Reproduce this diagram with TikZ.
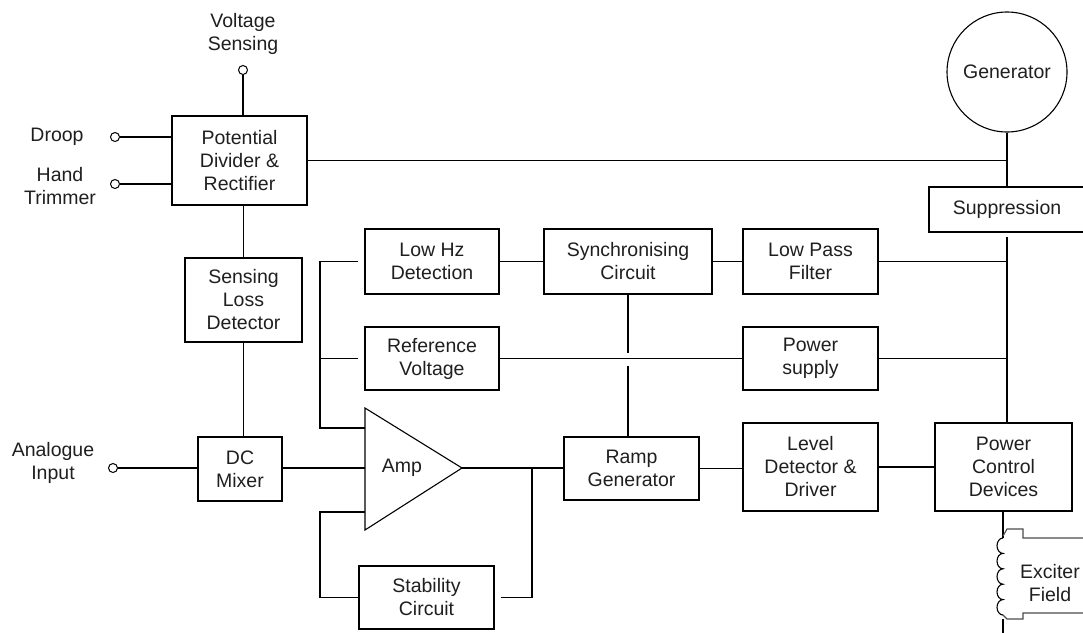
\documentclass[tikz,border=0pt]{standalone}
\usepackage{fontspec}
\setmainfont{Liberation Sans}
\begin{document}
\begin{tikzpicture}[x=1pt,y=-1pt,
  every node/.style={font=\fontsize{19.5}{23}\selectfont, text=black!88},
  blk/.style={draw, line width=1.6pt, align=center, inner sep=0pt},
  term/.style={circle, draw, line width=1pt, inner sep=0pt, minimum size=9pt},
  lbl/.style={align=center, inner sep=0pt},
  wire/.style={line width=1.6pt}]
\useasboundingbox (0,0) rectangle (1083,632);
% blocks
\node[blk, minimum width=135pt, minimum height=89pt] (pd) at (239.5,160.5) {Potential\\Divider \&\\Rectifier};
\node[blk, minimum width=117pt, minimum height=84pt] (sld) at (243.5,300) {Sensing\\Loss\\Detector};
\node[blk, minimum width=84pt, minimum height=64pt] (dc) at (240,469) {DC\\Mixer};
\node[blk, minimum width=134pt, minimum height=65pt] (lowhz) at (432,261.5) {Low Hz\\Detection};
\node[blk, minimum width=168pt, minimum height=65pt] (sync) at (628,261.5) {Synchronising\\Circuit};
\node[blk, minimum width=135pt, minimum height=65pt] (lpf) at (810.5,261.5) {Low Pass\\Filter};
\node[blk, minimum width=134pt, minimum height=63pt] (ref) at (432,358.5) {Reference\\Voltage};
\node[blk, minimum width=135pt, minimum height=63pt] (ps) at (810.5,358.5) {Power\\supply};
\node[blk, minimum width=135pt, minimum height=63pt] (ramp) at (631.5,468.5) {Ramp\\Generator};
\node[blk, minimum width=135pt, minimum height=88pt] (level) at (810.5,467) {Level\\Detector \&\\Driver};
\node[blk, minimum width=137pt, minimum height=88pt] (pcd) at (1003.5,467) {Power\\Control\\Devices};
\node[blk, minimum width=135pt, minimum height=63pt] (stab) at (426.5,597.5) {Stability\\Circuit};
\node[blk, minimum width=156pt, minimum height=45pt] (supp) at (1007,209.5) {Suppression};
\node[circle, draw, line width=1.1pt, minimum size=120pt, inner sep=0pt] (gen) at (1007,72) {Generator};
% amplifier
\coordinate (at) at (365,408);
\coordinate (ab) at (365,530);
\coordinate (ampout) at (462,468);
\coordinate (ampin) at (365,468);
\coordinate (ampup) at (365,428);
\coordinate (amplo) at (365,512);
\draw[line width=1.1pt] (at) -- (ampout) -- (ab) -- cycle;
\node (amp) at (402,468) {Amp};
% terminals and labels
\node[term] (vs) at (243,70) {};
\node[lbl] (vslbl) at (243,33.5) {Voltage\\Sensing};
\node[term] (droop) at (115,137) {};
\node[lbl] (drooplbl) at (57,137) {Droop};
\node[term] (hand) at (115,184) {};
\node[lbl] (handlbl) at (60,186.5) {Hand\\Trimmer};
\node[term] (ana) at (113,468) {};
\node[lbl] (analbl) at (53,462.5) {Analogue\\Input};
\node[lbl] (exc) at (1050,583) {Exciter\\Field};
% helper coordinates
\coordinate (bx) at (320,0);
\coordinate (sj) at (532,468);
% connectors
\draw[wire] (vs) -- (vs |- pd.north);
\draw[wire] (droop) -- (droop -| pd.west);
\draw[wire] (hand) -- (hand -| pd.west);
\draw[wire] (ana) -- (dc.west |- ana);
\draw[wire] (sld.north) -- (sld.north |- pd.south);
\draw[wire] (sld.south) -- (sld.south |- dc.north);
\draw[wire] (pd.east) -- (pd.east -| gen.south);
\draw[wire] (gen.south) -- (supp.north);
\draw[wire] ([yshift=-4pt]supp.south) -- (supp.south |- pcd.north);
\draw[wire] (lpf.east) -- (lpf.east -| supp.south);
\draw[wire] (ps.east) -- (ps.east -| supp.south);
\draw[wire] (lowhz.east) -- (sync.west);
\draw[wire] (sync.east) -- (lpf.west);
\draw[wire] (ref.east) -- (ps.west);
\draw[wire] (dc.east |- ampin) -- (ampin);
\draw[wire] (ampout) -- (ampout -| ramp.west);
\draw[wire] (ramp.east) -- (ramp.east -| level.west);
\draw[wire] (level.east) -- (pcd.west);
\draw[wire] ([xshift=-6pt]lowhz.west) -- (lowhz.west -| bx) |- (ampup);
\draw[wire] ([xshift=-6pt]ref.west) -- (ref.west -| bx);
\draw[wire] (amplo) -- (amplo -| bx) |- (stab.west);
\draw[wire] ([xshift=6pt]stab.east) -| (sj);
\draw[wire] (sync.south) -- ([yshift=6pt]sync.south |- ps.west);
\draw[wire] ([yshift=-7pt]sync.south |- ps.west) -- (sync.south |- ramp.north);
% exciter field coil
\coordinate (ct) at (1003,538);
\coordinate (cb) at (1003,615);
\draw[wire] (pcd.south -| ct) -- (ct);
\draw[line width=1.1pt] (ct)
  arc[start angle=270, end angle=90, x radius=6, y radius=7.7]
  arc[start angle=270, end angle=90, x radius=6, y radius=7.7]
  arc[start angle=270, end angle=90, x radius=6, y radius=7.7]
  arc[start angle=270, end angle=90, x radius=6, y radius=7.7]
  arc[start angle=270, end angle=90, x radius=6, y radius=7.7];
\draw[line width=1.1pt, black!70] (1003,536) -- (1007,529) -- (1023,529) -- (1023,538) -- (1086,538);
\draw[line width=1.1pt, black!70] (cb) -- (1007,619) -- (1023,619) -- (1023,613) -- (1086,613);
\draw[wire] (1003,619) -- (1003,634);
\end{tikzpicture}
\end{document}
